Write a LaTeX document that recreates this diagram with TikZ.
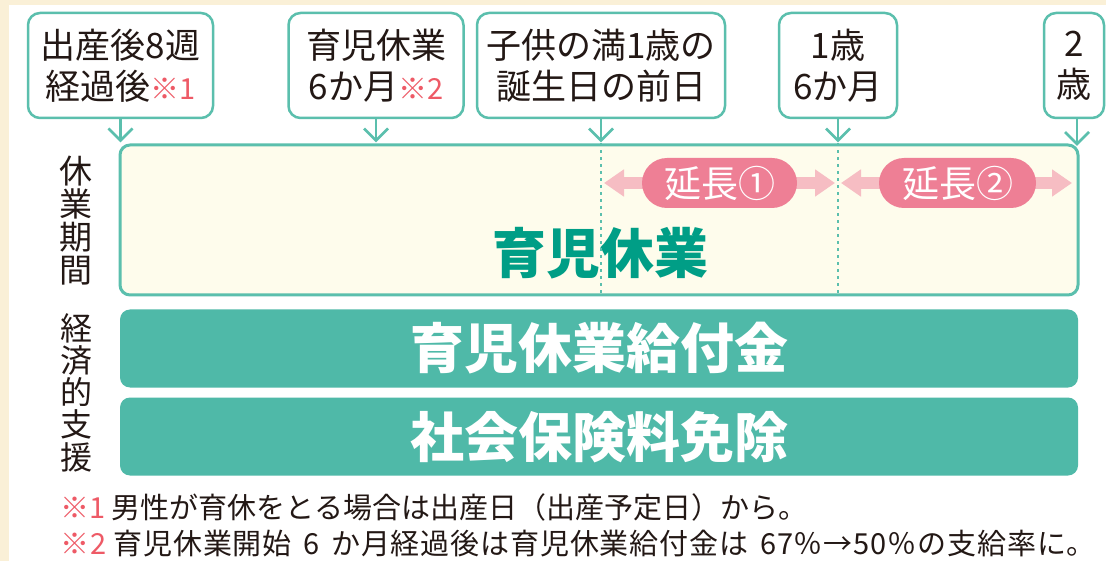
\documentclass[tikz,border=0pt]{standalone}
\usepackage{fontspec}
\setmainfont{Noto Sans CJK JP}
\usetikzlibrary{arrows.meta}
\definecolor{cream}{HTML}{FAF0D7}
\definecolor{tealline}{HTML}{5BBFAD}
\definecolor{mainfill}{HTML}{FEFCEC}
\definecolor{greentext}{HTML}{009E86}
\definecolor{tealbox}{HTML}{4FB9A8}
\definecolor{pillpink}{HTML}{EE7F95}
\definecolor{lightpink}{HTML}{F6BDC3}
\definecolor{redmark}{HTML}{EE5A66}
\definecolor{ink}{HTML}{231815}
\tikzset{
  lbl/.style={draw=tealline, line width=2.5pt, rounded corners=12pt, fill=white,
    align=center, inner sep=0pt, minimum height=105pt, text=ink,
    font=\fontsize{35}{41}\selectfont},
  downarrow/.style={draw=tealline, line width=2.8pt},
  barb/.style={draw=tealline, line width=2.8pt, line join=miter},
  mainbox/.style={draw=tealline, line width=3pt, rounded corners=10pt, fill=mainfill,
    minimum width=958pt, minimum height=150pt, inner sep=0pt},
  dotline/.style={draw=tealline, line width=1.5pt, dash pattern=on 3pt off 4pt},
  extarrow/.style={draw=lightpink, line width=12pt,
    {Triangle[length=20pt,width=26pt]}-{Triangle[length=20pt,width=26pt]}},
  pill/.style={fill=pillpink, rounded corners=25pt, minimum height=50pt,
    inner sep=0pt, text=white, font=\fontsize{37}{37}\selectfont},
  supportbox/.style={fill=tealbox, rounded corners=10pt, minimum width=958pt,
    minimum height=78pt, inner sep=0pt, text=white,
    font=\bfseries\fontsize{54}{54}\selectfont},
  sidelabel/.style={align=center, inner sep=0pt, text=ink},
  note/.style={anchor=west, inner sep=0pt, text=ink, font=\fontsize{29}{29}\selectfont}
}
\newcommand{\redmk}[1]{{\color{redmark}#1}}
\begin{document}
\begin{tikzpicture}[x=1pt,y=-1pt]
\useasboundingbox (0,0) rectangle (1106,561);
\fill[cream] (0,0) rectangle (1106,561);
\fill[white] (9,5) rectangle (1106,561);

% top labels
\node[lbl, minimum width=185pt] (b1) at (120.5,65.5) {出産後8週\\経過後{\fontsize{29}{29}\selectfont\redmk{※1}}};
\node[lbl, minimum width=175pt] (b2) at (376,65.5) {育児休業\\6か月{\fontsize{29}{29}\selectfont\redmk{※2}}};
\node[lbl, minimum width=248pt] (b3) at (601,65.5) {子供の満1歳の\\誕生日の前日};
\node[lbl, minimum width=118pt] (b4) at (838,65.5) {1歳\\6か月};
\node[lbl, minimum width=60pt] (b5) at (1074,65.5) {2\\歳};

% main period box
\node[mainbox] (main) at (599,220) {};
\node[text=greentext, font=\bfseries\fontsize{54}{54}\selectfont, inner sep=0pt] (mtext) at (600,253) {育児休業};

% dotted dividers
\draw[dotline] (b3.south |- main.north) -- (b3.south |- main.south);
\draw[dotline] (b4.south |- main.north) -- (b4.south |- main.south);

% arrows from labels (shaft + open V head)
\foreach \b in {b1,b2,b3,b4} {
  \coordinate (\b t) at ([yshift=3pt]\b.south |- main.north);
  \draw[downarrow] (\b.south) -- (\b t);
  \draw[barb] ([shift={(-12,-12)}]\b t) -- (\b t) -- ([shift={(12,-12)}]\b t);
}
\coordinate (b5t) at (1077,144);
\draw[downarrow] (b5.south -| b5t) -- (b5t);
\draw[barb] ([shift={(-12,-12)}]b5t) -- (b5t) -- ([shift={(12,-12)}]b5t);

% extension arrows
\coordinate (e1a) at (604,183);
\coordinate (e1b) at (835,183);
\coordinate (e2a) at (841,183);
\coordinate (e2b) at (1072,183);
\draw[extarrow] (e1a) -- (e1b);
\draw[extarrow] (e2a) -- (e2b);
\node[pill, minimum width=155pt] (p1) at (719.5,183) {延長①};
\node[pill, minimum width=157pt] (p2) at (957.5,183) {延長②};

% side labels
\node[sidelabel, font=\fontsize{33}{33}\selectfont] (s1) at (76,221) {休\\業\\期\\間};
\node[sidelabel, font=\fontsize{32}{32.2}\selectfont] (s2) at (76,392.5) {経\\済\\的\\支\\援};

% support boxes
\node[supportbox] (g1) at (599,348.5) {育児休業給付金};
\node[supportbox] (g2) at (599,436.5) {社会保険料免除};

% notes
\node[note] (n1) at (60,507) {\redmk{※1} 男性が育休をとる場合は出産日（出産予定日）から。};
\node[note] (n2) at (60,544) {\addfontfeature{LetterSpace=3}\redmk{※2} 育児休業開始\hspace{0.4em}6\hspace{0.4em}か月経過後は育児休業給付金は\hspace{0.4em}67％→50％の支給率に。};
\end{tikzpicture}
\end{document}
